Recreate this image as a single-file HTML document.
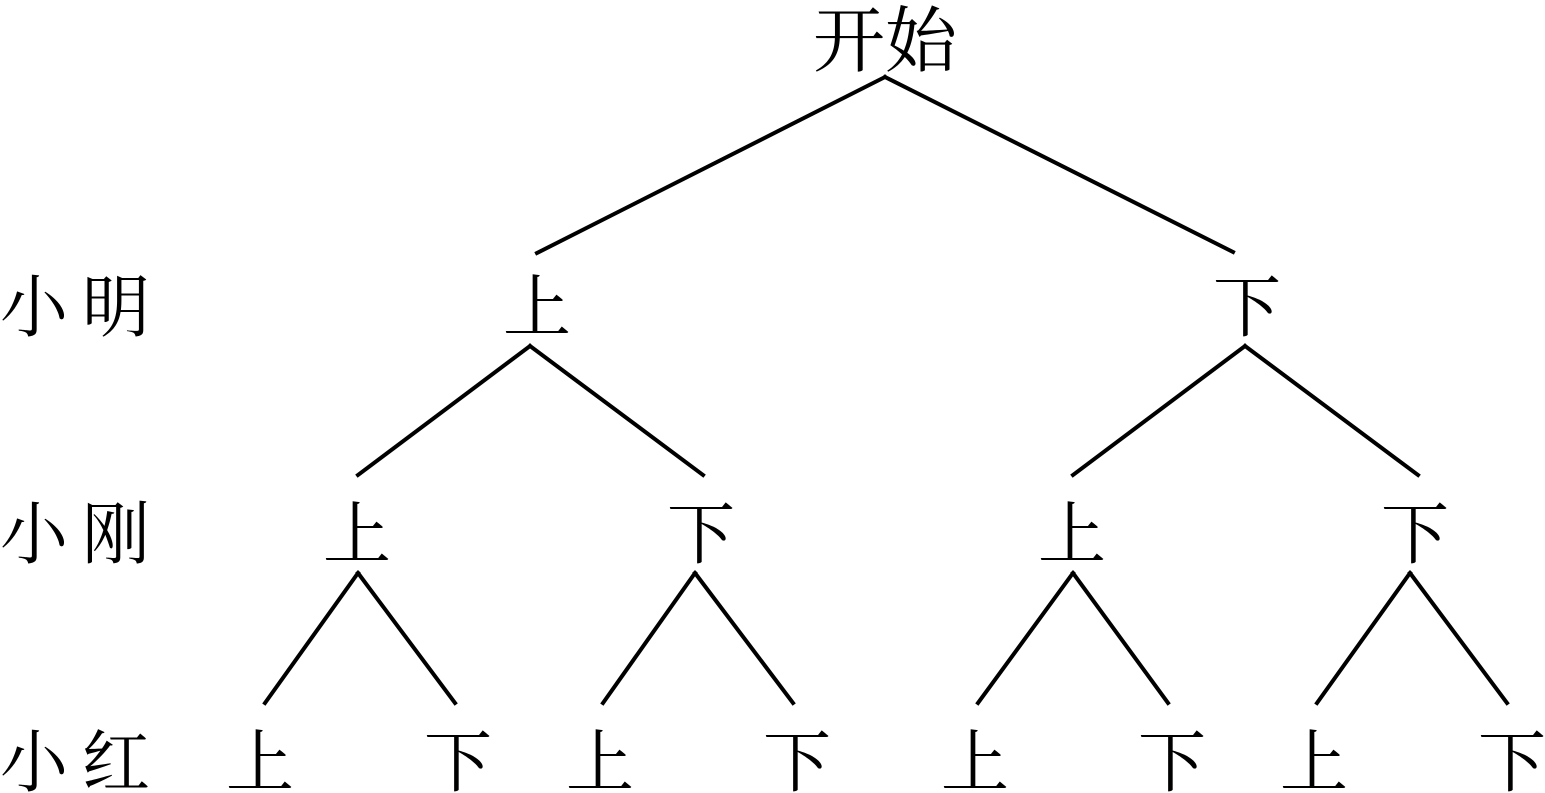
<!DOCTYPE html>
<html><head><meta charset="utf-8"><style>
html,body{margin:0;padding:0;background:#fff;}
svg{display:block;}
text{font-family:"Liberation Serif","Noto Serif CJK SC",serif;font-size:68px;fill:#000;}
</style></head><body>
<svg width="1545" height="793" viewBox="0 0 1545 793" xmlns="http://www.w3.org/2000/svg">
<g stroke="#000" stroke-width="4" fill="none" stroke-linecap="square">
<line x1="885" y1="77" x2="537" y2="253"/><line x1="885" y1="77" x2="1233" y2="252"/>
<line x1="530" y1="346" x2="358" y2="475"/><line x1="530" y1="346" x2="703" y2="475"/>
<line x1="1245" y1="346" x2="1073" y2="475"/><line x1="1245" y1="346" x2="1418" y2="475"/>
<line x1="358" y1="573" x2="265" y2="703"/><line x1="358" y1="573" x2="455" y2="703"/>
<line x1="695" y1="573" x2="603" y2="703"/><line x1="695" y1="573" x2="793" y2="703"/>
<line x1="1073" y1="573" x2="978" y2="703"/><line x1="1073" y1="573" x2="1168" y2="703"/>
<line x1="1410" y1="573" x2="1317" y2="703"/><line x1="1410" y1="573" x2="1507" y2="703"/>
</g>
<g text-anchor="middle">
<text x="885" y="66" style="font-size:72px">开始</text>
<text x="537" y="331">上</text><text x="1247" y="331">下</text>
<text x="357" y="558">上</text><text x="701" y="558">下</text><text x="1072" y="558">上</text><text x="1415" y="558">下</text>
<text x="260" y="786">上</text><text x="458" y="786">下</text><text x="600" y="786">上</text><text x="797" y="786">下</text>
<text x="975" y="786">上</text><text x="1172" y="786">下</text><text x="1314" y="786">上</text><text x="1512" y="786">下</text>
</g>
<g>
<text x="0" y="331" letter-spacing="14">小明</text>
<text x="0" y="558" letter-spacing="14">小刚</text>
<text x="0" y="786" letter-spacing="14">小红</text>
</g>
</svg>
</body></html>
